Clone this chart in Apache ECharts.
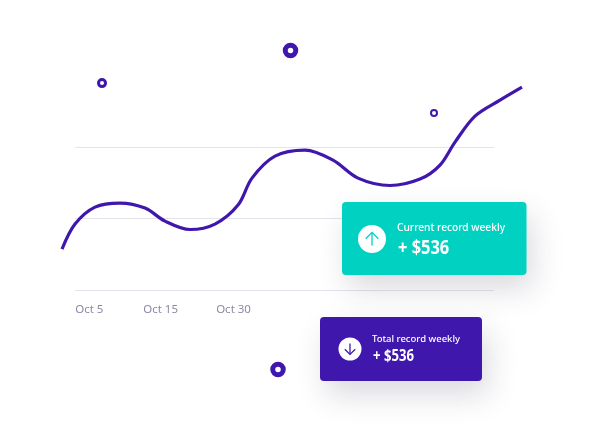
<!DOCTYPE html>
<html><head><meta charset="utf-8">
<style>html,body{margin:0;padding:0;background:#fff}#c{width:610px;height:447px}</style>
<script src="https://cdn.jsdelivr.net/npm/echarts@6/dist/echarts.min.js"></script>
</head><body><div id="c"></div>
<script>
const tickLabels = ['Oct 5','Oct 15','Oct 30'];
const tickPositions = [0, 6.8, 14.1];
const lineX = [-1.3,0,2,4.5,7,9,11.5,14,16.3,17.7,20,23,25.8,28.3,31.5,34.5,36.5,38,40,42.5,44.7];
const lineY = [207,332,417,437,412,347,305,332,427,562,672,702,652,562,525,557,627,742,872,952,1017];
const dotX = [2.7,21.55,35.9,20.3];
const dotY = [1037,1200,887,-395];
const dotSizes = [7,10.5,6,10.5];
const dotBorders = [3,5,2,5];
const cardTitles = ['Current record weekly','Total record weekly'];
const cardValues = ['+ $536','+ $536'];
const ink = '#3f17ad', teal = '#00d1c1', font = '"Noto Sans", sans-serif';

function card(x, y, w, h, fill, cx, cy, r, title, value, tx, ty, ts, vy, vs, dir) {
  const a = r * 0.45, s = dir;
  return [
    {type:'rect', shape:{x,y,width:w,height:h,r:4}, z:20,
     style:{fill, shadowBlur:30, shadowOffsetX:6, shadowOffsetY:14, shadowColor:'rgba(40,40,70,0.17)'}},
    {type:'circle', shape:{cx,cy,r}, z:21, style:{fill:'#fff'}},
    {type:'polyline', z:22, shape:{points:[[cx,cy+s*a*1.05],[cx,cy-s*a*1.05]]}, style:{stroke:fill,lineWidth:1.3,fill:null}},
    {type:'polyline', z:22, shape:{points:[[cx-a,cy-s*0.05*a],[cx,cy-s*a*1.05],[cx+a,cy-s*0.05*a]]}, style:{stroke:fill,lineWidth:1.3,fill:null}},
    {type:'text', z:22, x:tx, y:ty, style:{text:title, fill:'#fff', font:`500 ${ts}px ${font}`, textVerticalAlign:'middle'}},
    {type:'text', z:22, x:tx+1, y:vy, scaleX:0.82, style:{text:value, fill:'#fff', font:`700 ${vs}px ${font}`, textVerticalAlign:'middle'}}
  ];
}

const chart = echarts.init(document.getElementById('c'), null, {renderer:'canvas'});
chart.setOption({
  animation:false,
  backgroundColor:'#fff',
  grid:[
    {left:75.2,width:418.8,top:146.9,height:143},
    {left:55,right:80,top:147.5,height:143}
  ],
  xAxis:[
    {type:'value',gridIndex:0,min:0,max:41.9,
     axisLine:{show:false},axisTick:{show:false},splitLine:{show:false},
     axisLabel:{customValues:tickPositions,
       formatter:(v)=>tickLabels[tickPositions.indexOf(v)],
       color:'#8b89a6',fontSize:11.5,fontFamily:font,margin:14,align:'left',showMinLabel:true,showMaxLabel:true}},
    {type:'value',gridIndex:1,min:-2,max:45.5,show:false,splitLine:{show:false}}
  ],
  yAxis:[
    {type:'value',gridIndex:0,min:0,max:715,interval:357.5,
     axisLine:{show:false},axisTick:{show:false},axisLabel:{show:false},
     splitLine:{show:true,lineStyle:{color:'#e3e3ea',width:1}}},
    {type:'value',gridIndex:1,min:0,max:715,show:false,splitLine:{show:false}}
  ],
  series:[
    {type:'line',xAxisIndex:1,yAxisIndex:1,data:lineX.map((x,i)=>[x,lineY[i]]),smooth:0.33,showSymbol:false,clip:false,z:5,
     lineStyle:{color:ink,width:3.2,cap:'butt',join:'round'}},
    {type:'scatter',xAxisIndex:1,yAxisIndex:1,clip:false,z:6,data:dotX.map((x,i)=>({value:[x,dotY[i]],symbolSize:dotSizes[i],
       itemStyle:{color:'#fff',borderColor:ink,borderWidth:dotBorders[i],opacity:1}}))}
  ],
  graphic:[].concat(
    card(342,202,184.5,73,teal,372,239,14,cardTitles[0],cardValues[0],397,228,10.2,248,20,1),
    card(320,317,162,64,ink,350,349,11.5,cardTitles[1],cardValues[1],372,339,9.5,356.5,16,-1)
  )
});
</script></body></html>
